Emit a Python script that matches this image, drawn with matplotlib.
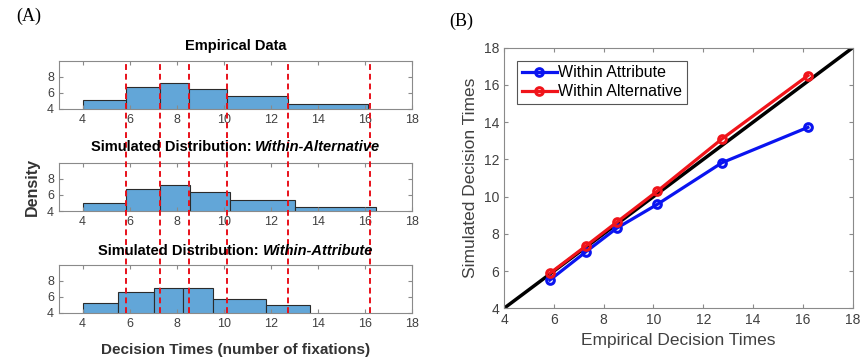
import matplotlib
matplotlib.use("Agg")
import matplotlib.pyplot as plt
import matplotlib.transforms as mtransforms
import numpy as np

# quantile boundaries of the empirical decision times (red dashed lines / x in panel B)
emp_quantiles = [5.84, 7.29, 8.52, 10.16, 12.75, 16.2]

# histogram bins for panel A
emp_edges = [4, 5.84, 7.29, 8.52, 10.16, 12.72, 16.15]
emp_heights = [5.1, 6.75, 7.25, 6.5, 5.58, 4.6]
alt_edges = [4, 5.84, 7.29, 8.55, 10.26, 13.05, 16.45]
alt_heights = [5.05, 6.7, 7.2, 6.35, 5.4, 4.55]
att_edges = [4, 5.5, 7.02, 8.28, 9.55, 11.78, 13.68]
att_heights = [5.28, 6.64, 7.15, 7.15, 5.7, 5.0]

# panel B
sim_alternative = [5.88, 7.35, 8.62, 10.3, 13.1, 16.5]
sim_attribute = [5.52, 7.04, 8.3, 9.59, 11.82, 13.72]

bar_color = "#62a6d8"
tick_color = "#404040"
spine_color = "#8a8a8a"
sans = ["Liberation Sans", "DejaVu Sans"]

fig = plt.figure(figsize=(8.61, 3.62), dpi=100)


def style_axes(ax, labelsize):
    ax.tick_params(direction="in", top=True, right=True, length=3,
                   colors=spine_color, labelcolor=tick_color, labelsize=labelsize)
    for s in ax.spines.values():
        s.set_color(spine_color)
        s.set_linewidth(0.8)
    for lab in ax.get_xticklabels() + ax.get_yticklabels():
        lab.set_family(sans)


hist_rects = [
    [0.0685, 0.699, 0.41, 0.1326],
    [0.0685, 0.417, 0.41, 0.1334],
    [0.0685, 0.136, 0.41, 0.1318],
]
hist_data = [(emp_edges, emp_heights), (alt_edges, alt_heights), (att_edges, att_heights)]

axes_a = []
for rect, (edges, heights) in zip(hist_rects, hist_data):
    ax = fig.add_axes(rect)
    edges = np.array(edges)
    ax.bar(edges[:-1], heights, width=np.diff(edges), align="edge",
           color=bar_color, edgecolor="#2b2b2b", linewidth=0.8)
    ax.set_xlim(3, 18)
    ax.set_ylim(4, 10)
    ax.set_xticks(range(4, 19, 2))
    ax.set_yticks([4, 6, 8])
    style_axes(ax, 9)
    axes_a.append(ax)

# titles with bold + bold-italic parts
title_y = [0.873, 0.594, 0.307]
fig.text(0.2735, title_y[0], "Empirical Data", ha="center", va="center",
         fontsize=10.5, fontweight="bold", family=sans)
for y, word in zip(title_y[1:], ["Within-Alternative", "Within-Attribute"]):
    t1 = fig.text(0.2735, y, "Simulated Distribution: ", ha="right", va="center",
                  fontsize=10.5, fontweight="bold", family=sans)
    t2 = fig.text(0.2735, y, word, ha="left", va="center",
                  fontsize=10.5, fontweight="bold", style="italic", family=sans)
    fig.canvas.draw()
    r = fig.canvas.get_renderer()
    w1 = t1.get_window_extent(r).width / fig.bbox.width
    w2 = t2.get_window_extent(r).width / fig.bbox.width
    shift = (w1 - w2) / 2
    t1.set_x(0.2735 + shift)
    t2.set_x(0.2735 + shift)

# red dashed quantile lines spanning the three histograms
trans = mtransforms.blended_transform_factory(axes_a[0].transData, fig.transFigure)
y_top = hist_rects[0][1] + hist_rects[0][3]
y_bot = hist_rects[2][1]
for q in emp_quantiles:
    fig.add_artist(plt.Line2D([q, q], [y_bot, y_top], transform=trans,
                              color="#e8101a", linestyle=(0, (3, 2)), linewidth=1.4))

fig.text(0.038, 0.483, "Density", rotation=90, ha="center", va="center",
         fontsize=11.5, fontweight="bold", color="#333333", family=sans)
fig.text(0.2735, 0.033, "Decision Times (number of fixations)", ha="center", va="center",
         fontsize=11, fontweight="bold", color="#333333", family=sans)

# panel B
axb = fig.add_axes([0.5854, 0.1483, 0.405, 0.72])
axb.plot([4, 18], [4, 18], color="black", linewidth=2.5, zorder=1)
axb.plot(emp_quantiles, sim_attribute, color="#0a14f0", linewidth=2.3, marker="o",
         markersize=5.5, markerfacecolor="none", markeredgewidth=2.2, label="Within Attribute", zorder=2)
axb.plot(emp_quantiles, sim_alternative, color="#f0141a", linewidth=2.3, marker="o",
         markersize=5.5, markerfacecolor="none", markeredgewidth=2.2, label="Within Alternative", zorder=3)
axb.set_xlim(4, 18)
axb.set_ylim(4, 18)
axb.set_xticks(range(4, 19, 2))
axb.set_yticks(range(4, 19, 2))
style_axes(axb, 10)
axb.set_xlabel("Empirical Decision Times", fontsize=12.5, color="#404040", family=sans, labelpad=4)
axb.set_ylabel("Simulated Decision Times", fontsize=12.5, color="#404040", family=sans, labelpad=4)
leg = axb.legend(loc="upper left", bbox_to_anchor=(0.037, 0.95), borderaxespad=0,
                 handlelength=2.2, handletextpad=0.1, borderpad=0.3, labelspacing=0.25,
                 fancybox=False, framealpha=1, prop={"family": sans, "size": 11.5})
leg.get_frame().set_edgecolor("#555555")
leg.get_frame().set_linewidth(0.8)

fig.text(0.033, 0.955, "(A)", ha="center", va="center", fontsize=13, family="Liberation Serif")
fig.text(0.536, 0.94, "(B)", ha="center", va="center", fontsize=13, family="Liberation Serif")

fig.savefig("out.png", dpi=100)
